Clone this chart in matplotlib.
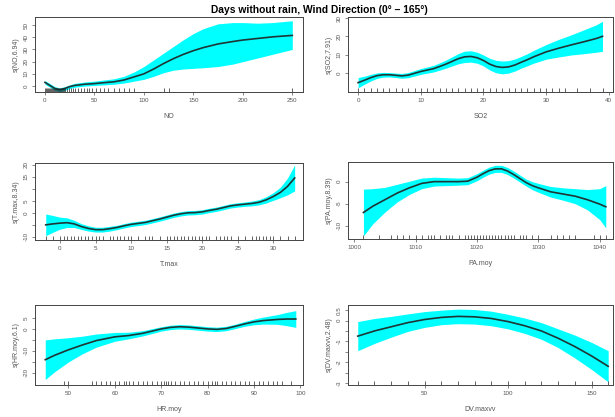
import matplotlib
matplotlib.use("Agg")
import matplotlib.pyplot as plt
import matplotlib.transforms as mtransforms

plt.rcParams['font.family'] = ['Liberation Sans', 'DejaVu Sans']

TITLE = "Days without rain, Wind Direction (0\u00b0 \u2013 165\u00b0)"

# ---- NO ----
no_x = [0, 5, 10, 15, 20, 25, 30, 40, 50, 60, 70, 80, 90, 100, 110, 120, 130, 140, 150, 160, 175, 190, 200, 215, 230, 250]
no_fit = [3, 0.5, -2, -3, -2, -0.5, 0.5, 1.5, 2, 2.8, 3.5, 5, 7.5, 10, 14, 18.5, 22.5, 26, 29, 31.5, 34.5, 36.5, 37.7, 39, 40.3, 41.5]
no_hi = [4.5, 2, -0.5, -1.5, -0.5, 1, 2.2, 3.3, 4, 5, 6, 8, 11.5, 16, 21.5, 27, 32.5, 38, 43, 47, 51, 52, 52, 51.5, 52, 53.5]
no_lo = [1.5, -1, -3.5, -4.5, -3.5, -2, -1, 0, 0.5, 1, 1.5, 2.5, 4, 5.5, 8, 11, 13, 14, 14.5, 15, 16, 18, 20, 23, 26, 30]
no_rug = [0, 1, 2, 3, 4, 5, 6, 7, 8, 9, 10, 11, 12, 13, 14, 15, 16, 17, 18, 19, 20, 22, 24, 26, 28,
          30, 33, 36, 39, 42, 45, 48, 52, 56, 60, 64, 70, 75, 80, 85, 90, 120, 125, 250]

# ---- SO2 ----
so2_x = [0, 1, 2, 3, 4, 5, 6, 7, 8, 10, 12, 13, 14, 15, 16, 17, 18, 19, 20, 21, 22, 23, 24, 25, 26, 27, 28, 30, 32, 34, 36, 38, 39]
so2_fit = [-5.3, -4, -2.6, -1.5, -1, -1, -1.3, -1.6, -1.2, 0.8, 2.3, 3.5, 4.8, 6.3, 7.8, 8.8, 9, 8.3, 6.8, 4.8, 3.5, 3, 3.3,
           4.3, 5.8, 7.2, 8.8, 11.5, 13.5, 15.3, 17, 18.8, 20]
so2_band = [2.8, 2.2, 1.8, 1.5, 1.3, 1.2, 1.2, 1.3, 1.4, 1.6, 1.8, 2, 2.2, 2.5, 2.8, 3.1, 3.1, 3, 3, 3.2, 3.4, 3.5, 3.4,
            3.3, 3.2, 3.3, 3.5, 4, 4.8, 5.5, 6.5, 7.5, 8.2]
so2_rug = [0, 1, 2, 3, 4, 5, 6, 7, 8, 9, 10, 11, 12, 13, 14, 15, 16, 17, 18, 19, 20, 21, 22, 23, 24, 25, 26, 27, 28,
           29, 30, 31, 32, 33, 35, 37, 39]

# ---- T.max ----
tmax_x = [-2, -1, 0, 1, 2, 3, 4, 5, 6, 7, 8, 9, 10, 11, 12, 13, 14, 15, 16, 17, 18, 19, 20, 21, 22, 23, 24, 25, 26, 27,
          28, 29, 30, 31, 32, 33]
tmax_fit = [-5, -4.6, -4.3, -4.1, -4.6, -5.7, -6.5, -7, -7, -6.6, -6.1, -5.4, -4.8, -4.4, -4.0, -3.3, -2.6, -1.8, -1,
            -0.4, 0, 0.1, 0.4, 1, 1.5, 2.2, 2.9, 3.3, 3.6, 3.9, 4.4, 5.4, 6.8, 8.5, 11, 14.5]
tmax_band = [4.5, 3.5, 2.5, 2, 1.5, 1.2, 1.1, 1, 1, 1, 0.9, 0.9, 0.9, 0.9, 0.9, 0.9, 0.9, 0.9, 0.9, 0.9, 0.9, 0.9, 0.9,
             0.9, 0.9, 0.9, 0.9, 0.9, 0.9, 1, 1.1, 1.3, 1.6, 2.2, 3.5, 5.4]
tmax_rug = [-2, -1, 0, 0.5, 1, 1.5, 2, 2.5, 3, 3.5, 4, 4.5, 5, 5.5, 6, 7, 7.5, 8, 8.5, 9, 9.5, 10, 11, 12, 12.5, 13, 14,
            15, 15.5, 16, 16.5, 17, 17.5, 18, 18.5, 19, 19.5, 20, 20.5, 21, 22, 22.5, 23, 23.5, 24, 25, 26, 27, 27.5,
            28, 28.5, 29, 29.5, 30, 31, 32, 33]

# ---- PA.moy ----
pa_x = [1001.5, 1003, 1005, 1007, 1009, 1011, 1013, 1015, 1017, 1018.5, 1020, 1021, 1022, 1023, 1024, 1025, 1026, 1027,
        1028, 1029, 1030, 1032, 1034, 1036, 1038, 1040, 1041]
pa_fit = [-7, -5.6, -4.1, -2.6, -1.4, -0.4, 0, 0, 0, 0.1, 1, 1.8, 2.5, 2.9, 2.9, 2.4, 1.6, 0.7, -0.2, -0.9, -1.4, -2.3,
          -2.8, -3.3, -4.1, -5.1, -5.7]
pa_band = [5.3, 4, 2.8, 2, 1.5, 1.2, 1, 0.9, 0.8, 0.8, 0.8, 0.8, 0.8, 0.8, 0.8, 0.8, 0.8, 0.8, 0.8, 0.9, 1, 1.2, 1.4,
           1.7, 2.3, 3.5, 4.8]
pa_rug = [1001.5, 1004, 1006, 1007, 1008, 1009, 1010, 1011, 1012, 1012.5, 1013, 1014, 1015, 1015.5, 1016, 1017, 1018,
          1018.5, 1019, 1019.5, 1020, 1020.5, 1021, 1021.5, 1022, 1022.5, 1023, 1023.5, 1024, 1024.5, 1025, 1025.5,
          1026, 1027, 1027.5, 1028, 1029, 1030, 1032, 1033, 1034, 1035, 1036, 1039, 1040, 1041]

# ---- HR.moy ----
hr_x = [45, 47, 50, 53, 56, 60, 63, 66, 68, 70, 72, 74, 76, 78, 80, 82, 84, 86, 88, 90, 92, 95, 97, 99]
hr_fit = [-14, -12, -9.5, -7.3, -5.3, -3.6, -3, -2, -1, 0, 0.7, 1, 0.8, 0.4, 0, -0.2, 0.2, 1.2, 2.3, 3.2, 3.8, 4.3,
          4.5, 4.5]
hr_band = [9, 7.5, 5.5, 4, 3, 2, 1.5, 1.2, 1.1, 1, 1, 1, 1, 1, 1, 1, 1, 1, 1.1, 1.3, 1.6, 2.2, 3, 3.8]
hr_rug = [49, 50, 55, 56, 57, 58, 59, 60, 61, 62, 62.5, 63, 64, 65, 66, 67, 68, 69, 70, 70.5, 71, 71.5, 72, 73, 74,
          75, 76, 77, 78, 79, 80, 81, 81.5, 82, 83, 84, 85, 86, 87, 88, 89, 90, 91, 92, 93, 94, 95, 96, 98]

# ---- DV.maxvv ----
dv_x = [10, 20, 30, 40, 50, 60, 70, 80, 90, 100, 110, 120, 130, 140, 150, 160]
dv_fit = [-0.75, -0.5, -0.3, -0.1, 0.05, 0.15, 0.2, 0.18, 0.1, -0.05, -0.25, -0.5, -0.85, -1.25, -1.7, -2.2]
dv_band = [0.7, 0.6, 0.5, 0.42, 0.38, 0.35, 0.35, 0.35, 0.35, 0.35, 0.37, 0.4, 0.45, 0.55, 0.65, 0.75]
dv_rug = [10, 20, 30, 40, 50, 60, 70, 80, 90, 100, 110, 120, 130, 140, 150, 160]

BAND = '#00ffff'
LINE = '#1e3636'
EDGE = '#444444'


def panel(fig, rect, x, fit, rug, xlabel, ylabel, xlim, ylim, xticks, yticks, ytlabels,
          lo=None, hi=None, band=None):
    ax = fig.add_axes(rect)
    if band is not None:
        lo = [f - b for f, b in zip(fit, band)]
        hi = [f + b for f, b in zip(fit, band)]
    ax.fill_between(x, lo, hi, color=BAND, lw=0)
    ax.plot(x, fit, color=LINE, lw=1.2)
    # rug along the bottom, like R's plot.gam
    trans = mtransforms.blended_transform_factory(ax.transData, ax.transAxes)
    ax.vlines(rug, 0, 0.05, transform=trans, color='#222222', lw=0.5)
    ax.set_xlim(*xlim)
    ax.set_ylim(*ylim)
    ax.set_xticks(xticks)
    ax.set_yticks(yticks)
    ax.set_yticklabels(ytlabels, rotation=90, va='center')
    ax.tick_params(labelsize=4.5, length=2.5, width=0.5, colors='#555555', pad=2)
    for s in ax.spines.values():
        s.set_color(EDGE)
        s.set_linewidth(0.7)
    ax.set_xlabel(xlabel, fontsize=5, color='#555555', labelpad=7)
    ax.set_ylabel(ylabel, fontsize=5, color='#555555', labelpad=3)
    return ax


fig = plt.figure(figsize=(6.15, 4.17), dpi=100)
fig.text(0.52, 0.977, TITLE, ha='center', va='center', fontsize=7.4, fontweight='bold')

L = [0.057, 0.436]
R = [0.566, 0.430]

panel(fig, [L[0], 0.779, L[1], 0.180], no_x, no_fit, no_rug, 'NO', 's(NO,6.94)',
      (-10, 261), (-5, 56.5), [0, 50, 100, 150, 200, 250], [0, 10, 20, 30, 40, 50],
      ['0', '10', '20', '30', '40', '50'], lo=no_lo, hi=no_hi)
panel(fig, [R[0], 0.779, R[1], 0.180], so2_x, so2_fit, so2_rug, 'SO2', 's(SO2,7.91)',
      (-1.6, 40.6), (-10.5, 30.5), [0, 10, 20, 30, 40], [0, 10, 20, 30],
      ['0', '10', '20', '30'], band=so2_band)
panel(fig, [L[0], 0.4245, L[1], 0.185], tmax_x, tmax_fit, tmax_rug, 'T.max', 's(T.max,8.34)',
      (-3.5, 34.2), (-11.3, 20.8), [0, 5, 10, 15, 20, 25, 30], [-10, -5, 0, 5, 10, 15, 20],
      ['-10', '', '0', '5', '', '15', '20'], band=tmax_band)
panel(fig, [R[0], 0.427, R[1], 0.185], pa_x, pa_fit, pa_rug, 'PA.moy', 's(PA.moy,8.39)',
      (999, 1042.1), (-13, 4.5), [1000, 1010, 1020, 1030, 1040], [-10, -5, 0],
      ['-10', '-5', '0'], band=pa_band)
panel(fig, [L[0], 0.0767, L[1], 0.192], hr_x, hr_fit, hr_rug, 'HR.moy', 's(HR.moy,6.1)',
      (42.8, 100.6), (-25.5, 10.9), [50, 60, 70, 80, 90, 100], [-20, -15, -10, -5, 0, 5],
      ['-20', '', '-10', '', '0', '5'], band=hr_band)
panel(fig, [R[0], 0.0767, R[1], 0.192], dv_x, dv_fit, dv_rug, 'DV.maxvv', 's(DV.maxvv,2.48)',
      (4.2, 162.6), (-3.1, 0.75), [50, 100, 150], [-3, -2.5, -2, -1.5, -1, -0.5, 0, 0.5],
      ['-3', '', '-2', '', '-1', '', '0', '0.5'], band=dv_band)

fig.savefig('out.png', dpi=100)
